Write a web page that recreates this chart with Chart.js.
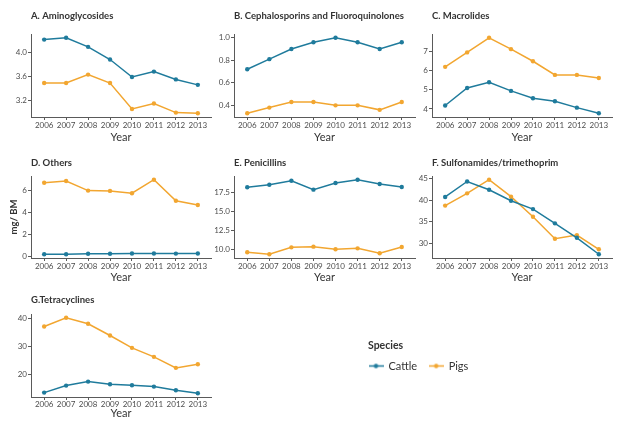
<!DOCTYPE html>
<html><head><meta charset="utf-8">
<script src="https://cdn.jsdelivr.net/npm/chart.js@4/dist/chart.umd.min.js"></script>
<style>
html,body{margin:0;padding:0;background:#fff;}
body{width:628px;height:426px;position:relative;overflow:hidden;}
canvas{position:absolute;}
</style></head><body>
<script>
// ---------- data ----------
const years = [2006, 2007, 2008, 2009, 2010, 2011, 2012, 2013];
const seriesNames = ['Cattle', 'Pigs'];
const legendTitle = 'Species';
const xAxisTitle = 'Year';
const yAxisTitle = 'mg/ BM';

const aminoglycosidesCattle = [4.21, 4.24, 4.09, 3.88, 3.59, 3.68, 3.55, 3.46];
const aminoglycosidesPigs   = [3.49, 3.49, 3.63, 3.49, 3.06, 3.15, 3.00, 2.99];
const aminoglycosidesTicks  = [3.2, 3.6, 4.0];

const cephalosporinsCattle = [0.72, 0.81, 0.90, 0.96, 1.00, 0.96, 0.90, 0.96];
const cephalosporinsPigs   = [0.33, 0.38, 0.43, 0.43, 0.40, 0.40, 0.36, 0.43];
const cephalosporinsTicks  = [0.4, 0.6, 0.8, 1.0];

const macrolidesCattle = [4.18, 5.09, 5.39, 4.94, 4.56, 4.40, 4.07, 3.78];
const macrolidesPigs   = [6.19, 6.94, 7.70, 7.11, 6.48, 5.77, 5.77, 5.61];
const macrolidesTicks  = [4, 5, 6, 7];

const othersCattle = [0.22, 0.22, 0.27, 0.27, 0.29, 0.29, 0.28, 0.29];
const othersPigs   = [6.75, 6.90, 6.03, 6.00, 5.79, 7.02, 5.10, 4.71];
const othersTicks  = [0, 2, 4, 6];

const penicillinsCattle = [18.15, 18.49, 19.01, 17.84, 18.71, 19.14, 18.58, 18.19];
const penicillinsPigs   = [9.61, 9.35, 10.26, 10.35, 10.00, 10.13, 9.48, 10.30];
const penicillinsTicks  = [10.0, 12.5, 15.0, 17.5];

const sulfonamidesCattle = [40.76, 44.36, 42.43, 39.90, 37.94, 34.63, 31.28, 27.45];
const sulfonamidesPigs   = [38.76, 41.60, 44.77, 40.83, 36.17, 31.06, 31.90, 28.60];
const sulfonamidesTicks  = [30, 35, 40, 45];

const tetracyclinesCattle = [13.68, 16.18, 17.60, 16.68, 16.32, 15.82, 14.54, 13.46];
const tetracyclinesPigs   = [37.26, 40.36, 38.21, 34.04, 29.64, 26.43, 22.50, 23.80];
const tetracyclinesTicks  = [20, 30, 40];

// ---------- style ----------
const CATTLE_COLOR = '#1f7b9c';
const PIGS_COLOR = '#f2a630';
const AXIS_COLOR = '#5a5a5a';
const TICK_COLOR = '#4d4d4d';
const TEXT_COLOR = '#333333';
const FONT = 'Lato, "Open Sans", sans-serif';

const panels = [
  {title:'A. Aminoglycosides', cattle:aminoglycosidesCattle, pigs:aminoglycosidesPigs, ticks:aminoglycosidesTicks, dec:1,
   x:0, y:4, w:215, h:140, yW:31, xH:27, tT:6, tB:12, tp:0.5},
  {title:'B. Cephalosporins and Fluoroquinolones', cattle:cephalosporinsCattle, pigs:cephalosporinsPigs, ticks:cephalosporinsTicks, dec:1,
   x:205, y:4, w:214, h:140, yW:29, xH:27, tT:6, tB:12, tp:0.5},
  {title:'C. Macrolides', cattle:macrolidesCattle, pigs:macrolidesPigs, ticks:macrolidesTicks, dec:0,
   x:410, y:4, w:206, h:140, yW:22, xH:27, tT:6, tB:12, tp:0.5},
  {title:'D. Others', cattle:othersCattle, pigs:othersPigs, ticks:othersTicks, dec:0, yTitle:true,
   x:0, y:146, w:215, h:138, yW:31, xH:26, tT:10.7, tB:7.3, tp:0.8},
  {title:'E. Penicillins', cattle:penicillinsCattle, pigs:penicillinsPigs, ticks:penicillinsTicks, dec:1,
   x:205, y:146, w:214, h:138, yW:29, xH:26, tT:10.7, tB:7.3, tp:0.8},
  {title:'F. Sulfonamides/trimethoprim', cattle:sulfonamidesCattle, pigs:sulfonamidesPigs, ticks:sulfonamidesTicks, dec:0,
   x:410, y:146, w:206, h:138, yW:22, xH:26, tT:10.7, tB:7.3, tp:0.8},
  {title:'G.Tetracyclines', cattle:tetracyclinesCattle, pigs:tetracyclinesPigs, ticks:tetracyclinesTicks, dec:0,
   x:0, y:284, w:215, h:136, yW:31, xH:23, tT:10, tB:8, tp:-0.7}
];

function addCanvas(x, y, w, h) {
  const c = document.createElement('canvas');
  c.width = w; c.height = h;
  c.style.left = x + 'px'; c.style.top = y + 'px';
  c.style.width = w + 'px'; c.style.height = h + 'px';
  document.body.appendChild(c);
  return c;
}

function seriesDataset(label, values, color) {
  return {
    label: label,
    data: years.map((yr, i) => ({x: yr, y: values[i]})),
    borderColor: color, backgroundColor: color,
    borderWidth: 1.5, pointRadius: 2.2, pointBorderWidth: 0,
    pointBackgroundColor: color, tension: 0, fill: false
  };
}

function makePanel(p) {
  const c = addCanvas(p.x, p.y, p.w, p.h);
  const all = p.cattle.concat(p.pigs);
  const lo = Math.min(...all), hi = Math.max(...all), r = hi - lo;
  new Chart(c, {
    type: 'line',
    data: {datasets: [
      seriesDataset(seriesNames[0], p.cattle, CATTLE_COLOR),
      seriesDataset(seriesNames[1], p.pigs, PIGS_COLOR)
    ]},
    options: {
      responsive: false, animation: false, devicePixelRatio: 1,
      layout: {padding: 0},
      plugins: {
        legend: {display: false}, tooltip: {enabled: false},
        title: {display: true, text: p.title, align: 'start', fullSize: false,
          color: TEXT_COLOR, font: {family: FONT, size: 9.5, weight: 'bold', lineHeight: 1.2632},
          padding: {top: p.tT, bottom: p.tB}}
      },
      scales: {
        x: {
          type: 'linear', min: years[0] - 0.6, max: years[years.length - 1] + 0.6,
          afterBuildTicks: s => { s.ticks = years.map(v => ({value: v})); },
          afterFit: s => { s.height = p.xH; },
          ticks: {callback: v => String(v), autoSkip: false, maxRotation: 0,
            color: TICK_COLOR, font: {family: FONT, size: 8}, padding: p.tp},
          grid: {drawOnChartArea: false, drawTicks: true, tickLength: 3, color: AXIS_COLOR},
          border: {display: true, color: AXIS_COLOR, width: 1},
          title: {display: true, text: xAxisTitle, color: TEXT_COLOR,
            font: {family: FONT, size: 11}, padding: 0}
        },
        y: {
          min: lo - 0.05 * r, max: hi + 0.05 * r,
          afterBuildTicks: s => { s.ticks = p.ticks.map(v => ({value: v})); },
          afterFit: s => { s.width = p.yW; },
          ticks: {callback: v => Number(v).toFixed(p.dec),
            color: TICK_COLOR, font: {family: FONT, size: 8}, padding: 1},
          grid: {drawOnChartArea: false, drawTicks: true, tickLength: 3, color: AXIS_COLOR},
          border: {display: true, color: AXIS_COLOR, width: 1},
          title: {display: !!p.yTitle, text: yAxisTitle, color: TEXT_COLOR,
            font: {family: FONT, size: 9.5, weight: 'bold'}, padding: {top: 8, bottom: 0}}
        }
      }
    }
  });
}

panels.forEach(makePanel);

// ---------- legend ----------
function legendSymbol(color) {
  const s = document.createElement('canvas');
  s.width = 15; s.height = 7;
  const g = s.getContext('2d');
  g.strokeStyle = color; g.lineWidth = 1.5;
  g.beginPath(); g.moveTo(0, 3.5); g.lineTo(15, 3.5); g.stroke();
  g.fillStyle = color; g.beginPath(); g.arc(7.5, 3.5, 2.2, 0, Math.PI * 2); g.fill();
  return s;
}

const legendCanvas = addCanvas(357, 330, 150, 96);
new Chart(legendCanvas, {
  type: 'line',
  data: {datasets: [
    {label: seriesNames[0], data: [], borderColor: CATTLE_COLOR, backgroundColor: CATTLE_COLOR},
    {label: seriesNames[1], data: [], borderColor: PIGS_COLOR, backgroundColor: PIGS_COLOR}
  ]},
  options: {
    responsive: false, animation: false, devicePixelRatio: 1,
    layout: {padding: {top: 18.5}},
    scales: {x: {display: false}, y: {display: false}},
    plugins: {
      tooltip: {enabled: false},
      legend: {
        display: true, position: 'top', align: 'start',
        labels: {
          usePointStyle: true, pointStyleWidth: 14, padding: 12,
          color: TEXT_COLOR, font: {family: FONT, size: 11},
          generateLabels: ch => ch.data.datasets.map((d, i) => ({
            text: d.label, fillStyle: d.borderColor, strokeStyle: d.borderColor,
            lineWidth: 0, pointStyle: legendSymbol(d.borderColor),
            fontColor: TEXT_COLOR, datasetIndex: i, hidden: false
          }))
        }
      }
    }
  },
  plugins: [{
    id: 'legendHeading',
    afterDraw: ch => {
      const g = ch.ctx;
      g.save();
      g.font = 'bold 10.5px ' + FONT;
      g.fillStyle = TEXT_COLOR;
      g.textBaseline = 'middle'; g.textAlign = 'left';
      g.fillText(legendTitle, 11, 16);
      g.restore();
    }
  }]
});
</script>
</body></html>
